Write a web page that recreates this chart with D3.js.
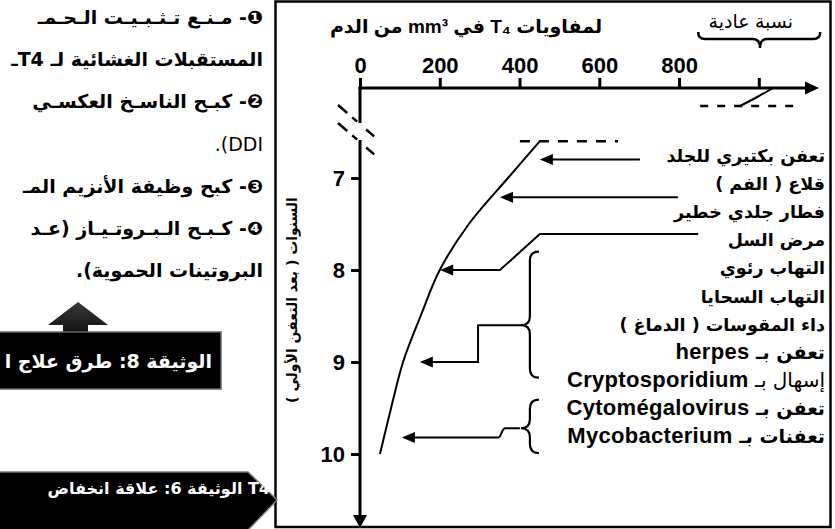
<!DOCTYPE html>
<html><head><meta charset="utf-8">
<script src="https://cdn.jsdelivr.net/npm/d3@7"></script>
<style>body{margin:0;background:#fff}svg{display:block}</style>
</head><body><svg id="c" width="835" height="529"></svg>
<script>
// ---------- data ----------
const xTickValues = [0, 200, 400, 600, 800, 1000];
const xTickLabels = ["0", "200", "400", "600", "800", ""];
const yTickValues = [7, 8, 9, 10];
const yTickLabels = ["7", "8", "9", "10"];
// main T4 curve (years after first infection, T4 per mm3)
const curveYears = [6.6, 7.0, 7.5, 8.0, 8.5, 9.0, 9.5, 10.0];
const curveT4    = [451, 371, 273, 200, 152, 108, 78, 50];
// early part of the curve (above the axis break)
const earlyYears = [0, 0.3, 0.6];
const earlyT4    = [1036, 996, 953];
const normalRange = [848, 1154];
const normalMark = 1003;
const diseaseLabels = [
  [["تعفن بكتيري للجلد", "ar"]],
  [["قلاع ( الفم )", "ar"]],
  [["فطار جلدي خطير", "ar"]],
  [["مرض السل", "ar"]],
  [["التهاب رئوي", "ar"]],
  [["التهاب السحايا", "ar"]],
  [["داء المقوسات ( الدماغ )", "ar"]],
  [["تعفن بـ ", "ar2"], ["herpes", "lat"]],
  [["إسهال بـ ", "arn"], ["Cryptosporidium", "lat"]],
  [["تعفن بـ ", "ar2"], ["Cytomégalovirus", "lat"]],
  [["تعفنات بـ ", "ar2"], ["Mycobacterium", "lat"]]
];
// arrows: [T4, year] points, last point = arrow tip
const arrowPaths = [
  [[702, 6.80], [451, 6.80]],
  [[797, 7.21], [351, 7.21]],
  [[848, 7.61], [451, 7.61], [351, 8.0], [201, 8.0]],
  [[406, 8.6], [296, 8.6], [296, 9.0], [150, 9.0]],
  [[401, 9.72], [364, 9.72], [346, 9.82], [105, 9.82]]
];
// braces grouping labels: [T4 of spine, year top, year point, year bottom]
const braces = [[426, 7.80, 8.6, 9.17], [426, 9.41, 9.72, 9.99]];
const panelLines = [
  ["❶- مـنـع تـثـبـيـت الـحـمـ", "bold"],
  ["المستقبلات الغشائية لـ T4ـ", "bold"],
  ["❷- كبـح الناسـخ العكسـي", "bold"],
  ["DDI).", "normal"],
  ["❸- كبح وظيفة الأنزيم المـ", "bold"],
  ["❹- كـبـح الـبـروتـيـاز (عـد", "bold"],
  ["البروتينات الحموية).", "bold"]
];
const box8Text = "الوثيقة 8: طرق علاج ا";
const box6Text = "الوثيقة 6: علاقة انخفاض T4";
const yTitle = "السنوات ( بعد التعفن الأولي )";
const xTitle = "لمفاويات T₄ في mm³ من الدم";
const normalText = "نسبة عادية";

// ---------- drawing ----------
const svg = d3.select("#c");
const AR = "'DejaVu Sans', sans-serif";
const LAT = "'Liberation Sans', Arial, 'DejaVu Sans', sans-serif";

const x = d3.scaleLinear().domain([0, 1000]).range([360, 758.8]);
const y = d3.scaleLinear().domain([7, 10]).range([178, 454]);
const yEarly = d3.scaleLinear().domain([0, 0.6]).range([88, 106]);
const axisY = 88, x0 = x(0);

// left panel (cropped neighbouring page)
svg.append("clipPath").attr("id", "lp").append("rect")
  .attr("x", 0).attr("y", 0).attr("width", 274).attr("height", 529);
const lp = svg.append("g").attr("clip-path", "url(#lp)");
panelLines.forEach((l, i) => {
  lp.append("text").attr("x", 263).attr("y", 24 + i * 42.2)
    .attr("direction", "rtl").attr("text-anchor", "start")
    .attr("font-family", AR).attr("font-size", 19).attr("font-weight", l[1])
    .attr("fill", "#000").text(l[0]);
});
// up arrow + box 8
const grad = svg.append("defs").append("linearGradient").attr("id", "ga")
  .attr("x1", 0).attr("y1", 0).attr("x2", 0).attr("y2", 1);
grad.append("stop").attr("offset", 0).attr("stop-color", "#3a3a3a");
grad.append("stop").attr("offset", 1).attr("stop-color", "#111");
lp.append("path").attr("d", "M78,302 L108,325 L88,325 L88,333 L63,333 L63,325 L48,325 Z")
  .attr("fill", "url(#ga)");
lp.append("rect").attr("x", -3).attr("y", 332).attr("width", 224).attr("height", 57)
  .attr("fill", "#000").attr("stroke", "#666").attr("stroke-width", 1.5);
lp.append("text").attr("x", 212).attr("y", 368).attr("direction", "rtl").attr("text-anchor", "start")
  .attr("font-family", AR).attr("font-size", 19).attr("font-weight", "bold").attr("fill", "#fff").text(box8Text);

// chart frame
svg.append("rect").attr("x", 275.5).attr("y", 1.5).attr("width", 555).attr("height", 525.5)
  .attr("fill", "none").attr("stroke", "#000").attr("stroke-width", 2.5);

// box 6 (pentagon) - label laid out with a left-to-right paragraph, as in the picture
svg.append("path").attr("d", "M-3,472 L248,472 L277,500 L248,530 L-3,530 Z")
  .attr("fill", "#000").attr("stroke", "#777").attr("stroke-width", 1.5);
svg.append("text").attr("x", 270).attr("y", 494).attr("direction", "ltr").attr("text-anchor", "end")
  .attr("font-family", AR).attr("font-size", 16).attr("font-weight", "bold").attr("fill", "#fff").text(box6Text);

// x axis
const gx = svg.append("g").attr("transform", `translate(0,${axisY})`)
  .call(d3.axisTop(x).tickValues(xTickValues).tickFormat((d, i) => xTickLabels[i])
    .tickSize(10).tickPadding(5).tickSizeOuter(0));
gx.select(".domain").remove();
gx.selectAll(".tick line").attr("stroke", "#000").attr("stroke-width", 3);
gx.selectAll(".tick text").attr("font-family", LAT).attr("font-size", 22)
  .attr("font-weight", "bold").attr("fill", "#000");
svg.append("path").attr("d", `M${x0 - 1.5},${axisY} H807`).attr("stroke", "#000").attr("stroke-width", 3);
svg.append("path").attr("d", `M819,${axisY} L805,${axisY - 6.5} L805,${axisY + 6.5} Z`).attr("fill", "#000");

// y axis
const gy = svg.append("g").attr("transform", `translate(${x0},0)`)
  .call(d3.axisLeft(y).tickValues(yTickValues).tickFormat((d, i) => yTickLabels[i])
    .tickSize(9).tickPadding(6).tickSizeOuter(0));
gy.select(".domain").remove();
gy.selectAll(".tick line").attr("stroke", "#000").attr("stroke-width", 3);
gy.selectAll(".tick text").attr("font-family", LAT).attr("font-size", 22)
  .attr("font-weight", "bold").attr("fill", "#000");
svg.append("path").attr("d", `M${x0},${axisY - 1.5} V123 M${x0},140 V517`)
  .attr("stroke", "#000").attr("stroke-width", 3).attr("fill", "none");
svg.append("path").attr("d", `M${x0},528 L${x0 - 7},515 L${x0 + 7},515 Z`).attr("fill", "#000");
// axis break marks
[105, 123].forEach(yy => {
  svg.append("line").attr("x1", x0 - 22).attr("y1", yy).attr("x2", x0 + 16).attr("y2", yy + 33)
    .attr("stroke", "#000").attr("stroke-width", 2.5)
    .attr("stroke-dasharray", "12.2,6.6,6.6,11.9,10.6,60");
});

// axis titles
svg.append("text").attr("x", 466).attr("y", 33).attr("text-anchor", "middle")
  .attr("direction", "rtl").attr("font-family", LAT).attr("font-size", 19).attr("font-weight", "bold")
  .text(xTitle);

svg.append("text").attr("transform", "translate(297,300) rotate(-90)").attr("text-anchor", "middle")
  .attr("direction", "rtl").attr("font-family", AR).attr("font-size", 14).attr("font-weight", "bold")
  .text(yTitle);

// normal ratio brace + text
{
  const x1 = x(normalRange[0]), x2 = x(normalRange[1]), xm = x(normalMark), yb = 32, w = 7;
  svg.append("path").attr("d",
    `M${x1},${yb} Q${x1},${yb + w} ${x1 + w},${yb + w} L${xm - w},${yb + w} Q${xm},${yb + w} ${xm},${yb + 2 * w + 2} ` +
    `Q${xm},${yb + w} ${xm + w},${yb + w} L${x2 - w},${yb + w} Q${x2},${yb + w} ${x2},${yb}`)
    .attr("fill", "none").attr("stroke", "#000").attr("stroke-width", 2.5);
  svg.append("text").attr("x", x(980)).attr("y", 28).attr("text-anchor", "middle").attr("direction", "rtl")
    .attr("font-family", LAT).attr("font-size", 19).text(normalText);
}

// dashed break continuations
svg.append("line").attr("x1", x(853)).attr("x2", x(1098)).attr("y1", yEarly(0.6)).attr("y2", yEarly(0.6))
  .attr("stroke", "#000").attr("stroke-width", 2.5).attr("stroke-dasharray", "8,9");
svg.append("line").attr("x1", x(401)).attr("x2", x(647)).attr("y1", y(6.6)).attr("y2", y(6.6))
  .attr("stroke", "#000").attr("stroke-width", 2.5).attr("stroke-dasharray", "10,9");

// curves
const early = earlyYears.map((yr, i) => ({ year: yr, t4: earlyT4[i] }));
svg.append("path").datum(early)
  .attr("d", d3.line().x(d => x(d.t4)).y(d => yEarly(d.year)).curve(d3.curveCatmullRom))
  .attr("fill", "none").attr("stroke", "#000").attr("stroke-width", 2);
const main = curveYears.map((yr, i) => ({ year: yr, t4: curveT4[i] }));
svg.append("path").datum(main)
  .attr("d", d3.line().x(d => x(d.t4)).y(d => y(d.year)).curve(d3.curveCatmullRom))
  .attr("fill", "none").attr("stroke", "#000").attr("stroke-width", 2);

// arrows
arrowPaths.forEach((pts, k) => {
  const p = pts.map(d => [x(d[0]), y(d[1])]);
  const tip = p[p.length - 1];
  const body = p.slice(); body[body.length - 1] = [tip[0] + 10, tip[1]];
  const ln = d3.line().curve(k === 4 ? d3.curveBumpX : d3.curveLinear);
  svg.append("path").attr("d", ln(body)).attr("fill", "none").attr("stroke", "#000").attr("stroke-width", 2);
  svg.append("path").attr("d", `M${tip[0]},${tip[1]} L${tip[0] + 13},${tip[1] - 5.5} L${tip[0] + 13},${tip[1] + 5.5} Z`)
    .attr("fill", "#000");
});

// braces
braces.forEach(b => {
  const xs = x(b[0]), y1 = y(b[1]), ym = y(b[2]), y2 = y(b[3]), w = 9;
  svg.append("path").attr("d",
    `M${xs + w},${y1} Q${xs},${y1} ${xs},${y1 + w} L${xs},${ym - w} Q${xs},${ym} ${xs - w},${ym} ` +
    `Q${xs},${ym} ${xs},${ym + w} L${xs},${y2 - w} Q${xs},${y2} ${xs + w},${y2}`)
    .attr("fill", "none").attr("stroke", "#000").attr("stroke-width", 2.2);
});

// disease labels
const rowY = d3.scaleLinear().domain([0, 10]).range([156, 437]);
const sizes = { ar: 17.5, ar2: 19, arn: 20, lat: 22 };
diseaseLabels.forEach((parts, i) => {
  const t = svg.append("text").attr("x", 825).attr("y", rowY(i) + 6)
    .attr("direction", "rtl").attr("text-anchor", "start").attr("fill", "#000");
  parts.forEach(([s, kind]) => {
    const ts = t.append("tspan").text(s)
      .attr("font-family", kind === "lat" ? LAT : AR)
      .attr("font-size", sizes[kind])
      .attr("font-weight", kind === "arn" ? "normal" : "bold");
    if (kind === "lat") ts.attr("letter-spacing", 0.3);
  });
});
</script>
</body></html>
